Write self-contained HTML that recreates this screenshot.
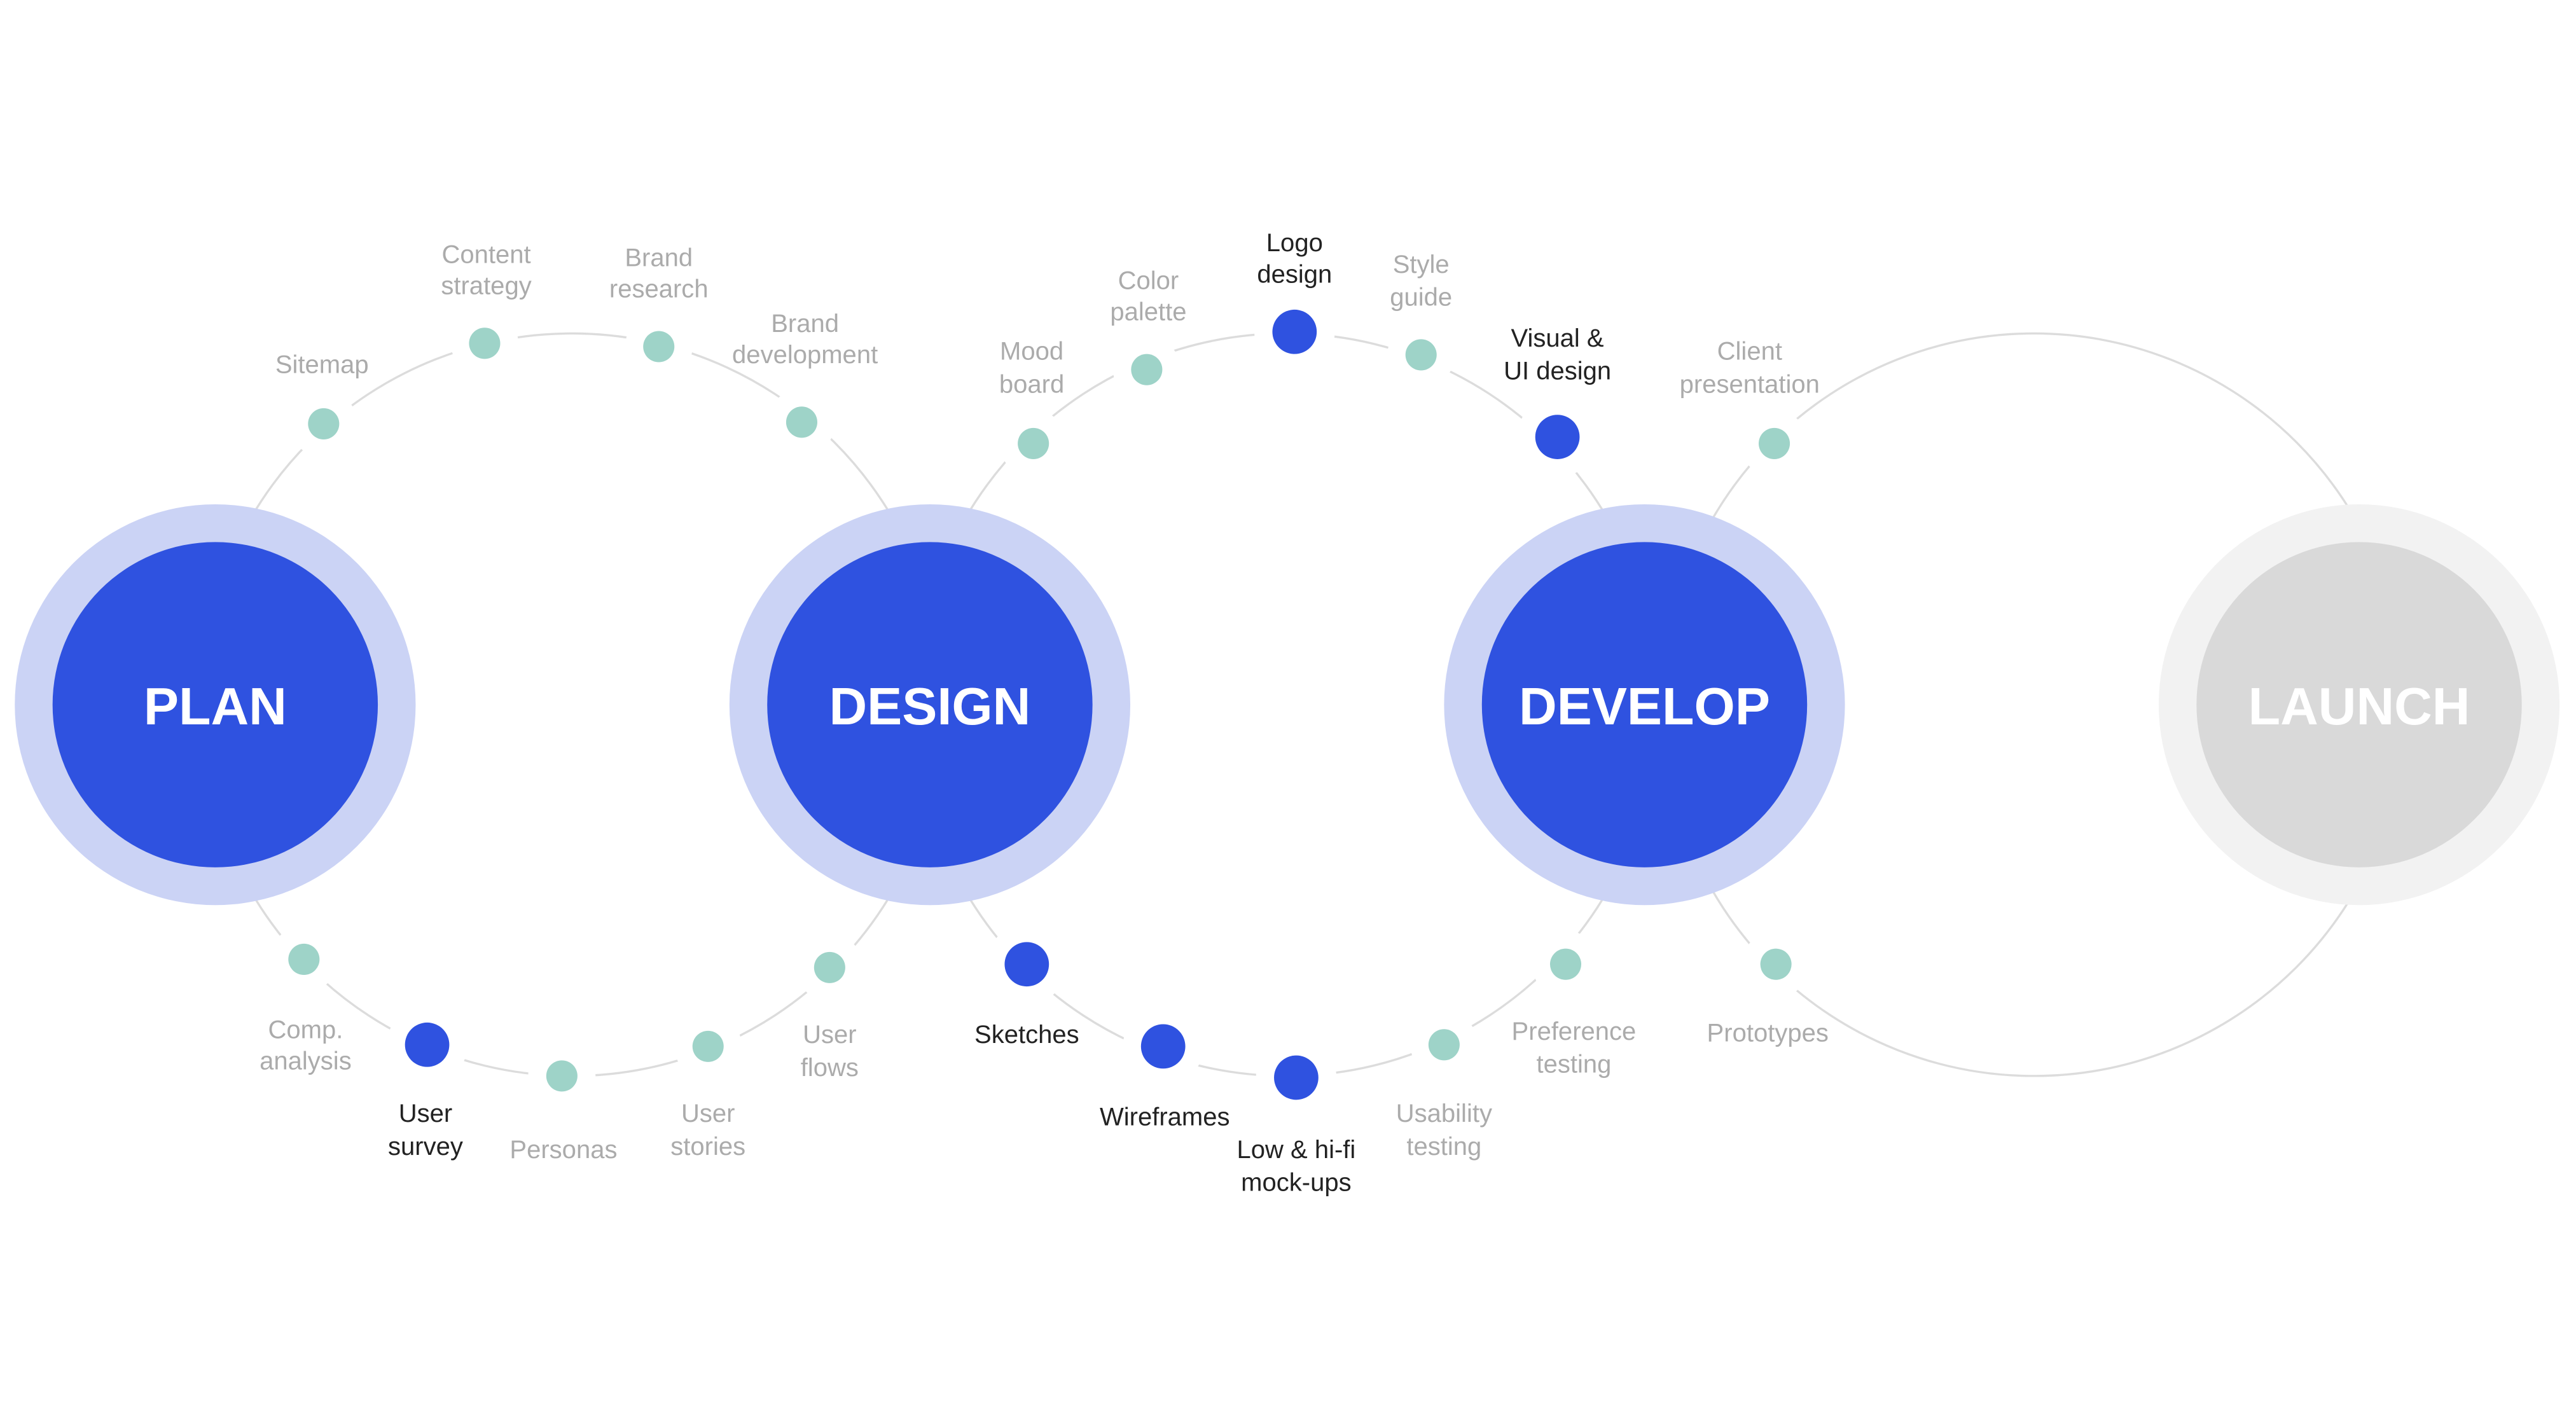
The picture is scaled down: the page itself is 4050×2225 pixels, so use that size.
<!DOCTYPE html>
<html><head><meta charset="utf-8"><style>
html,body{margin:0;padding:0;background:#fff;}
svg{display:block;}
text{font-family:"Liberation Sans",sans-serif;}
.l{font-size:15.5px;fill:#ababab;text-anchor:middle;}
.d{font-size:15.5px;fill:#222;text-anchor:middle;}
.b{font-size:32px;font-weight:bold;fill:#fff;text-anchor:middle;}
</style></head><body>
<svg width="4050" height="2225" viewBox="0 0 1568 861.4" preserveAspectRatio="none" xmlns="http://www.w3.org/2000/svg">
<rect width="1600" height="900" fill="#fff"/>
<g fill="none" stroke="#dcdcdc" stroke-width="1.3">
<circle cx="348" cy="429" r="226"/>
<circle cx="783" cy="429" r="226"/>
<circle cx="1238" cy="429" r="226"/>
</g>
<g stroke="#fff" stroke-width="22" fill="#9ed3c8" style="paint-order:stroke">
<circle cx="197" cy="258" r="9.5"/><circle cx="295" cy="209" r="9.5"/><circle cx="401" cy="211" r="9.5"/><circle cx="488" cy="257" r="9.5"/>
<circle cx="185" cy="584" r="9.5"/><circle cx="342" cy="655" r="9.5"/><circle cx="431" cy="637" r="9.5"/><circle cx="505" cy="589" r="9.5"/>
<circle cx="629" cy="270" r="9.5"/><circle cx="698" cy="225" r="9.5"/><circle cx="865" cy="216" r="9.5"/>
<circle cx="879" cy="636" r="9.5"/><circle cx="953" cy="587" r="9.5"/>
<circle cx="1080" cy="270" r="9.5"/><circle cx="1081" cy="587" r="9.5"/>
</g>
<g stroke="#fff" stroke-width="22" fill="#2f52e0" style="paint-order:stroke">
<circle cx="260" cy="636" r="13.5"/><circle cx="788" cy="202" r="13.5"/><circle cx="948" cy="266" r="13.5"/>
<circle cx="625" cy="587" r="13.5"/><circle cx="708" cy="637" r="13.5"/><circle cx="789" cy="656" r="13.5"/>
</g>
<circle cx="131" cy="429" r="122" fill="#cbd3f5"/><circle cx="131" cy="429" r="99" fill="#2f52e0"/>
<circle cx="566" cy="429" r="122" fill="#cbd3f5"/><circle cx="566" cy="429" r="99" fill="#2f52e0"/>
<circle cx="1001" cy="429" r="122" fill="#cbd3f5"/><circle cx="1001" cy="429" r="99" fill="#2f52e0"/>
<circle cx="1436" cy="429" r="122" fill="#f2f2f2"/><circle cx="1436" cy="429" r="99" fill="#d9d9d9"/>
<text class="b" x="131" y="441">PLAN</text>
<text class="b" x="566" y="441">DESIGN</text>
<text class="b" x="1001" y="441">DEVELOP</text>
<text class="b" x="1436" y="441">LAUNCH</text>
<text class="l" x="196" y="227">Sitemap</text>
<text class="l" x="296" y="160">Content</text><text class="l" x="296" y="179">strategy</text>
<text class="l" x="401" y="162">Brand</text><text class="l" x="401" y="181">research</text>
<text class="l" x="490" y="202">Brand</text><text class="l" x="490" y="221">development</text>
<text class="l" x="186" y="632">Comp.</text><text class="l" x="186" y="651">analysis</text>
<text class="d" x="259" y="683">User</text><text class="d" x="259" y="703">survey</text>
<text class="l" x="343" y="705">Personas</text>
<text class="l" x="431" y="683">User</text><text class="l" x="431" y="703">stories</text>
<text class="l" x="505" y="635">User</text><text class="l" x="505" y="655">flows</text>
<text class="l" x="628" y="219">Mood</text><text class="l" x="628" y="239">board</text>
<text class="l" x="699" y="176">Color</text><text class="l" x="699" y="195">palette</text>
<text class="d" x="788" y="153">Logo</text><text class="d" x="788" y="172">design</text>
<text class="l" x="865" y="166">Style</text><text class="l" x="865" y="186">guide</text>
<text class="d" x="948" y="211">Visual &amp;</text><text class="d" x="948" y="231">UI design</text>
<text class="l" x="1065" y="219">Client</text><text class="l" x="1065" y="239">presentation</text>
<text class="d" x="625" y="635">Sketches</text>
<text class="d" x="709" y="685">Wireframes</text>
<text class="d" x="789" y="705">Low &amp; hi-fi</text><text class="d" x="789" y="725">mock-ups</text>
<text class="l" x="879" y="683">Usability</text><text class="l" x="879" y="703">testing</text>
<text class="l" x="958" y="633">Preference</text><text class="l" x="958" y="653">testing</text>
<text class="l" x="1076" y="634">Prototypes</text>
</svg>
</body></html>
